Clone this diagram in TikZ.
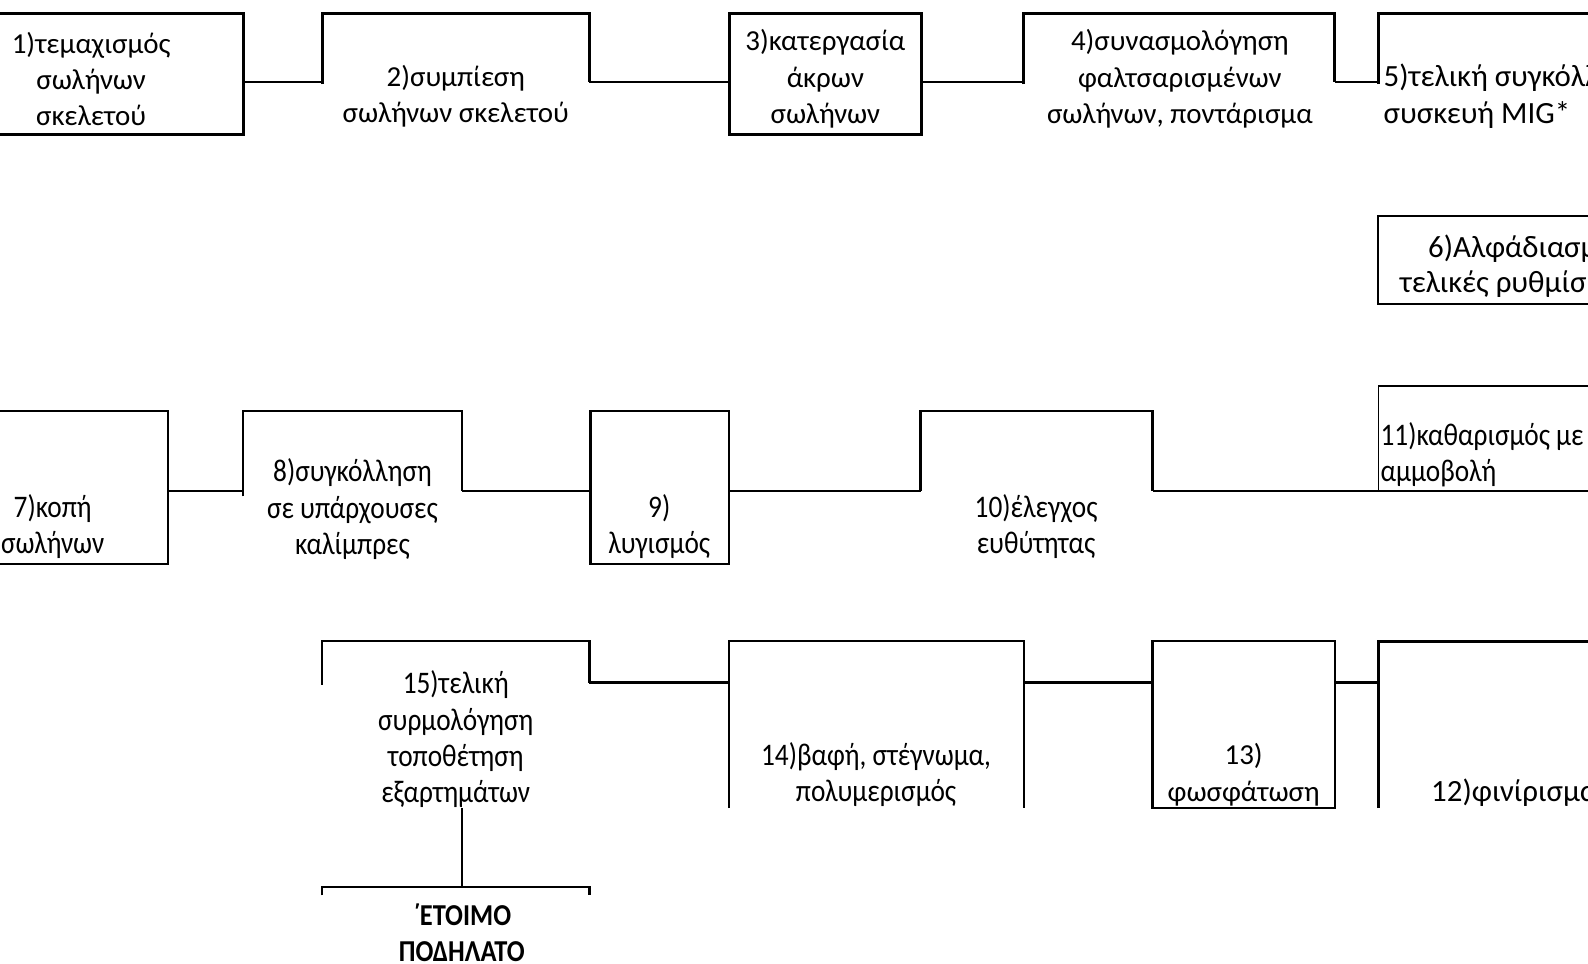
\documentclass[tikz,border=0pt]{standalone}
\usepackage{fontspec}
\setmainfont{Carlito}
\newfontfamily\narrowfnt[FakeStretch=0.87]{Carlito}
\begin{document}
\begin{tikzpicture}[x=1pt,y=-1pt,
  ln/.style={line width=2.2pt},
  thk/.style={line width=3pt},
  thn/.style={line width=1.6pt},
  cn/.style={line width=2.2pt},
  txt/.style={font=\fontsize{28.6}{36}\selectfont, align=center, inner sep=0pt},
  btxt/.style={font=\fontsize{30.5}{36}\selectfont, align=left, inner sep=0pt},
  ntxt/.style={font=\narrowfnt\fontsize{31}{36}\selectfont, align=center, inner sep=0pt},
  ]
\useasboundingbox (0,0) rectangle (1568,951);
\clip (0,0) rectangle (1568,951);
% ---------- row 1
\draw[thk] (-5,13) rectangle (240,133);
\node[txt] (t1) at (90,78) {1)τεμαχισμός\\σωλήνων\\σκελετού};
\draw[thk] (318,83) |- (582,13) -- (582,81);
\node[txt] (t2) at (450,95) {2)συμπίεση\\σωλήνων σκελετού};
\draw[thk] (720,13) rectangle (910,133);
\node[txt] (t3) at (815,78) {3)κατεργασία\\άκρων\\σωλήνων};
\draw[thk] (1011,83) |- (1318,13) -- (1318,81);
\node[txt] (t4) at (1165,78) {4)συνασμολόγηση\\φαλτσαρισμένων\\σωλήνων, ποντάρισμα};
\draw[thk] (1361,83) |- (1575,13);
\node[btxt, anchor=west] (t5) at (1366,95) {5)τελική συγκόλληση με\\συσκευή MIG*};
\coordinate (b1e) at (240,81);
\coordinate (b2w) at (318,81);
\coordinate (b2e) at (582,81);
\coordinate (b3w) at (720,81);
\coordinate (b3e) at (910,81);
\coordinate (b4w) at (1011,81);
\coordinate (b4e) at (1318,81);
\coordinate (b5w) at (1361,81);
\draw[cn] (b1e) -- (b2w);
\draw[cn] (b2e) -- (b3w);
\draw[cn] (b3e) -- (b4w);
\draw[cn] (b4e) -- (b5w);
% ---------- box 6
\draw[ln] (1575,213) -| (1361,300) -- (1575,300);
\node[btxt, anchor=west] (t6a) at (1410,246) {6)Αλφάδιασμα};
\node[btxt, anchor=west] (t6b) at (1382,281) {τελικές ρυθμίσεις};
% ---------- row 2
\draw[ln] (-5,406) rectangle (166,557);
\node[ntxt] (t7) at (52,520) {7)κοπή\\σωλήνων};
\draw[ln] (240,490) |- (456,406) -- (456,485);
\node[ntxt] (t8) at (348,503) {8)συγκόλληση\\σε υπάρχουσες\\καλίμπρες};
\draw[ln] (583,406) rectangle (720,557);
\node[ntxt] (t9) at (651,520) {9)\\λυγισμός};
\draw[ln] (909,485) |- (1138,406) -- (1138,485);
\node[ntxt] (t10) at (1023,520) {10)έλεγχος\\ευθύτητας};
\draw[thn] (1575,381) -| (1361,485) -- (1575,485);
\node[ntxt, align=left, anchor=west] (t11) at (1363,449) {11)καθαρισμός με\\αμμοβολή};
\coordinate (b7e) at (166,485);
\coordinate (b8w) at (240,485);
\coordinate (b8e) at (456,485);
\coordinate (b9w) at (583,485);
\coordinate (b9e) at (720,485);
\coordinate (b10w) at (909,485);
\coordinate (b10e) at (1138,485);
\coordinate (b11w) at (1361,485);
\draw[cn] (b7e) -- (b8w);
\draw[cn] (b8e) -- (b9w);
\draw[cn] (b9e) -- (b10w);
\draw[cn] (b10e) -- (b11w);
% ---------- row 3
\draw[ln] (318,676) |- (582,633) -- (582,674);
\node[ntxt] (t15) at (450,730) {15)τελική\\συρμολόγηση\\τοποθέτηση\\εξαρτημάτων};
\draw[ln] (720,798) |- (1011,633) -- (1011,798);
\node[ntxt] (t14) at (865,765) {14)βαφή, στέγνωμα,\\πολυμερισμός};
\draw[ln] (1138,633) rectangle (1318,798);
\node[txt] (t13) at (1228,765) {13)\\φωσφάτωση};
\draw[thk] (1361,798) |- (1575,633);
\node[btxt, anchor=west] (t12) at (1413,783) {12)φινίρισμα};
\coordinate (b15e) at (582,674);
\coordinate (b14w) at (720,674);
\coordinate (b14e) at (1011,674);
\coordinate (b13w) at (1138,674);
\coordinate (b13e) at (1318,674);
\coordinate (b12w) at (1361,674);
\draw[cn] (b15e) -- (b14w);
\draw[cn] (b14e) -- (b13w);
\draw[cn] (b13e) -- (b12w);
% ---------- final
\coordinate (b15s) at (456,798);
\coordinate (bEn) at (456,876);
\draw[cn] (b15s) -- (bEn);
\draw[ln] (318,884) |- (582,876) -- (582,884);
\node[font=\narrowfnt\bfseries\fontsize{30}{35}\selectfont, align=center, inner sep=0pt] (tE) at (456,921) {\char"0384\kern-1pt ΕΤΟΙΜΟ\\ΠΟΔΗΛΑΤΟ};
\end{tikzpicture}
\end{document}
